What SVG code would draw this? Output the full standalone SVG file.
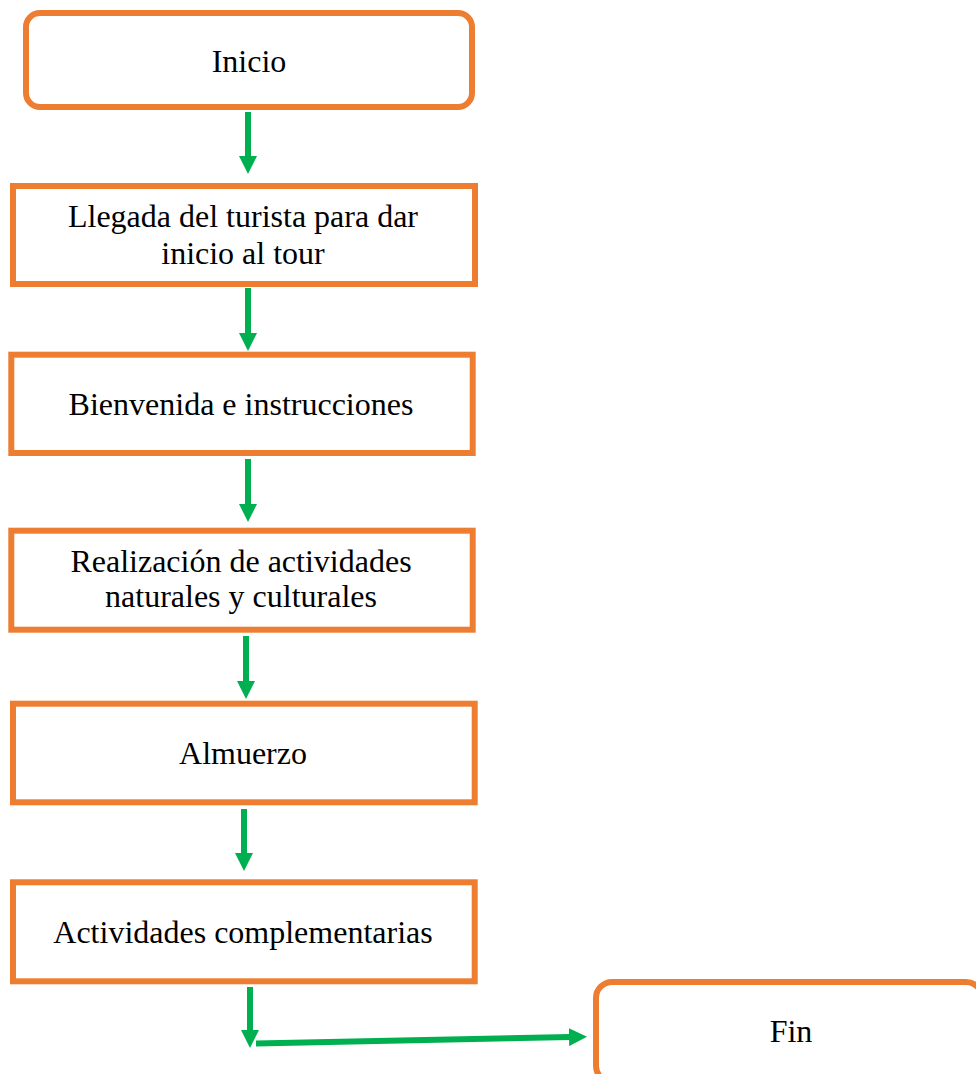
<svg xmlns="http://www.w3.org/2000/svg" width="976" height="1074" viewBox="0 0 976 1074">
<style>
.box{fill:#ffffff;stroke:#ED7D31;stroke-width:6}
.lbl{font-family:"Liberation Serif","Times New Roman",serif;font-size:32px;fill:#000000;text-anchor:middle}
.conn{stroke:#00B050;stroke-width:6;fill:none}
</style>
<defs>
<marker id="ah" markerUnits="userSpaceOnUse" viewBox="0 0 18 18" markerWidth="18" markerHeight="18" refX="1" refY="9" orient="auto">
<path d="M0,0 L18,9 L0,18 Z" fill="#00B050"/>
</marker>
</defs>
<rect width="976" height="1074" fill="#ffffff"/>
<g id="connectors">
<line class="conn" x1="248" y1="112" x2="248" y2="157" marker-end="url(#ah)"/>
<line class="conn" x1="248" y1="288" x2="248" y2="334" marker-end="url(#ah)"/>
<line class="conn" x1="248" y1="459" x2="248" y2="505" marker-end="url(#ah)"/>
<line class="conn" x1="246" y1="636" x2="246" y2="682" marker-end="url(#ah)"/>
<line class="conn" x1="244" y1="809" x2="244" y2="854" marker-end="url(#ah)"/>
<line class="conn" x1="250" y1="987" x2="250" y2="1031" marker-end="url(#ah)"/>
<line class="conn" x1="256" y1="1043.5" x2="570" y2="1037.05" marker-end="url(#ah)"/>
</g>
<g id="inicio">
<rect class="box" x="26" y="13" width="446" height="94" rx="14" ry="14"/>
<text class="lbl" x="249" y="72">Inicio</text>
</g>
<g id="llegada">
<rect class="box" x="13" y="186" width="462" height="98"/>
<text class="lbl" x="243" y="227">Llegada del turista para dar</text>
<text class="lbl" x="243" y="264">inicio al tour</text>
</g>
<g id="bienvenida">
<rect class="box" x="11.3" y="354.7" width="461.4" height="98.3"/>
<text class="lbl" x="241" y="415">Bienvenida e instrucciones</text>
</g>
<g id="realizacion">
<rect class="box" x="11.3" y="530.7" width="461.4" height="99"/>
<text class="lbl" x="241" y="572">Realización de actividades</text>
<text class="lbl" x="241" y="607">naturales y culturales</text>
</g>
<g id="almuerzo">
<rect class="box" x="13" y="703.7" width="461.7" height="98.6"/>
<text class="lbl" x="243" y="764">Almuerzo</text>
</g>
<g id="complementarias">
<rect class="box" x="13" y="882.3" width="461.7" height="99"/>
<text class="lbl" x="243" y="943">Actividades complementarias</text>
</g>
<g id="fin">
<rect class="box" x="596" y="982" width="386" height="100" rx="16" ry="16"/>
<text class="lbl" x="791" y="1042">Fin</text>
</g>
</svg>
